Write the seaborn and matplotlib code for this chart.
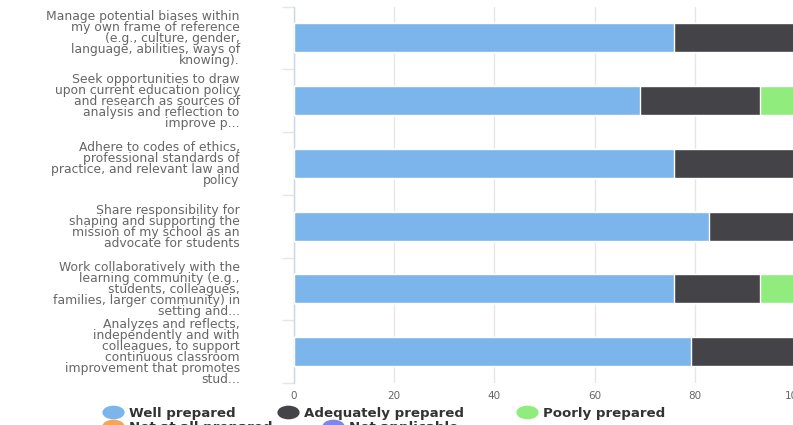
import numpy as np
import pandas as pd
import matplotlib
matplotlib.use('Agg')
import matplotlib.pyplot as plt
import seaborn as sns
from matplotlib.lines import Line2D
from matplotlib.path import Path
from matplotlib.transforms import Affine2D

# Category labels (truncated the same way as the source chart)
categories = [
    'Manage potential biases within\nmy own frame of reference\n(e.g., culture, gender,\nlanguage, abilities, ways of\nknowing).',
    'Seek opportunities to draw\nupon current education policy\nand research as sources of\nanalysis and reflection to\nimprove p...',
    'Adhere to codes of ethics,\nprofessional standards of\npractice, and relevant law and\npolicy',
    'Share responsibility for\nshaping and supporting the\nmission of my school as an\nadvocate for students',
    'Work collaboratively with the\nlearning community (e.g.,\nstudents, colleagues,\nfamilies, larger community) in\nsetting and...',
    'Analyzes and reflects,\nindependently and with\ncolleagues, to support\ncontinuous classroom\nimprovement that promotes\nstud...',
]

# Percent of respondents per answer
well_prepared = [75.9, 69.0, 75.9, 82.8, 75.9, 79.3]
adequately_prepared = [24.1, 24.1, 24.1, 17.2, 17.2, 20.7]
poorly_prepared = [0.0, 6.9, 0.0, 0.0, 6.9, 0.0]
not_at_all_prepared = [0.0, 0.0, 0.0, 0.0, 0.0, 0.0]
not_applicable = [0.0, 0.0, 0.0, 0.0, 0.0, 0.0]

series_names = ['Well prepared', 'Adequately prepared', 'Poorly prepared',
                'Not at all prepared', 'Not applicable']
colors = ['#7cb5ec', '#434348', '#90ed7d', '#f7a35c', '#8085e9']

df = pd.DataFrame({
    'Category': categories,
    'Well prepared': well_prepared,
    'Adequately prepared': adequately_prepared,
    'Poorly prepared': poorly_prepared,
    'Not at all prepared': not_at_all_prepared,
    'Not applicable': not_applicable,
})

# cumulative sums so the stacks can be drawn back to front
cum = df[series_names].cumsum(axis=1)

sns.set_style('white')
plt.rcParams['font.family'] = ['DejaVu Sans']

W, H = 793, 425
fig = plt.figure(figsize=(W / 100, H / 100), dpi=100)
ax = fig.add_axes([294 / W, 1 - 383 / H, 501 / W, (383 - 6.5) / H])

for name, col in reversed(list(zip(series_names, colors))):
    sns.barplot(x=cum[name], y=df['Category'], orient='h', color=col,
                saturation=1, width=0.46, edgecolor='white', linewidth=1,
                ax=ax, zorder=3)

ax.set_xlim(0, 100)
ax.set_ylim(5.5, -0.5)
ax.set_xticks([0, 20, 40, 60, 80, 100])
ax.grid(axis='x', color='#e6e6e6', linewidth=1, zorder=0)
ax.grid(axis='y', visible=False)
ax.set_xlabel('')
ax.set_ylabel('')

for s in ['top', 'right', 'bottom']:
    ax.spines[s].set_visible(False)
ax.spines['left'].set_color('#ccd6eb')
ax.spines['left'].set_linewidth(1)

ax.tick_params(axis='x', length=0, pad=6, labelsize=7.5, labelcolor='#666666')
ax.tick_params(axis='y', which='major', left=True, length=0, pad=39,
               labelsize=8.9, labelcolor='#666666')
ax.set_yticks(np.arange(-0.5, 6, 1), minor=True)
ax.tick_params(axis='y', which='minor', left=True, length=9,
               color='#e6e6e6', width=1)
for lab in ax.get_yticklabels():
    lab.set_horizontalalignment('right')
    lab.set_linespacing(0.8)

# ellipse-shaped legend markers
circ = Path.unit_circle()
oval = circ.transformed(Affine2D().scale(1.7, 1.0))

legend_pos = [(105, 413), (280, 413), (519, 413), (105, 427), (325, 427)]
for name, col, (px, py) in zip(series_names, colors, legend_pos):
    h = Line2D([], [], marker=oval, linestyle='none', markersize=15,
               markerfacecolor=col, markeredgecolor=col)
    leg = fig.legend([h], [name], loc='center left',
                     bbox_to_anchor=(px / W, 1 - py / H), frameon=False,
                     borderpad=0, borderaxespad=0, handlelength=1.2,
                     handletextpad=0.6,
                     prop={'weight': 'bold', 'size': 9.6})
    for t in leg.get_texts():
        t.set_color('#333333')

fig.savefig('out.png', dpi=100)
